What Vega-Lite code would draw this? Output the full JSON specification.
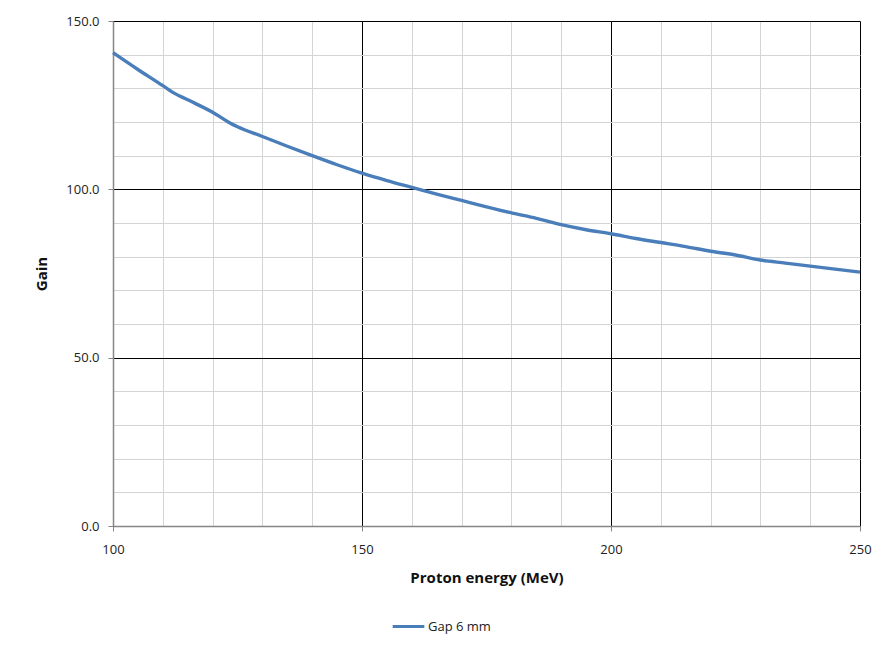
{
  "$schema": "https://vega.github.io/schema/vega-lite/v6.json",
  "autosize": {"type": "none"},
  "padding": {"left": 113, "top": 21, "right": 30, "bottom": 122},
  "width": 747,
  "height": 505,
  "background": "white",
  "config": {
    "font": "Open Sans",
    "view": {"stroke": null}
  },
  "data": {
    "values": [
      {"energy": 100, "gain": 140.6, "series": "Gap 6 mm"},
      {"energy": 105, "gain": 135.6, "series": "Gap 6 mm"},
      {"energy": 110, "gain": 130.8, "series": "Gap 6 mm"},
      {"energy": 112, "gain": 128.8, "series": "Gap 6 mm"},
      {"energy": 115, "gain": 126.6, "series": "Gap 6 mm"},
      {"energy": 120, "gain": 122.9, "series": "Gap 6 mm"},
      {"energy": 124, "gain": 119.3, "series": "Gap 6 mm"},
      {"energy": 125, "gain": 118.6, "series": "Gap 6 mm"},
      {"energy": 130, "gain": 115.7, "series": "Gap 6 mm"},
      {"energy": 135, "gain": 112.8, "series": "Gap 6 mm"},
      {"energy": 140, "gain": 110.0, "series": "Gap 6 mm"},
      {"energy": 145, "gain": 107.3, "series": "Gap 6 mm"},
      {"energy": 150, "gain": 104.8, "series": "Gap 6 mm"},
      {"energy": 155, "gain": 102.6, "series": "Gap 6 mm"},
      {"energy": 160, "gain": 100.6, "series": "Gap 6 mm"},
      {"energy": 165, "gain": 98.6, "series": "Gap 6 mm"},
      {"energy": 170, "gain": 96.7, "series": "Gap 6 mm"},
      {"energy": 175, "gain": 94.8, "series": "Gap 6 mm"},
      {"energy": 180, "gain": 93.0, "series": "Gap 6 mm"},
      {"energy": 185, "gain": 91.4, "series": "Gap 6 mm"},
      {"energy": 190, "gain": 89.5, "series": "Gap 6 mm"},
      {"energy": 195, "gain": 88.0, "series": "Gap 6 mm"},
      {"energy": 200, "gain": 86.8, "series": "Gap 6 mm"},
      {"energy": 205, "gain": 85.4, "series": "Gap 6 mm"},
      {"energy": 210, "gain": 84.2, "series": "Gap 6 mm"},
      {"energy": 215, "gain": 83.0, "series": "Gap 6 mm"},
      {"energy": 220, "gain": 81.6, "series": "Gap 6 mm"},
      {"energy": 225, "gain": 80.5, "series": "Gap 6 mm"},
      {"energy": 230, "gain": 79.0, "series": "Gap 6 mm"},
      {"energy": 235, "gain": 78.1, "series": "Gap 6 mm"},
      {"energy": 240, "gain": 77.2, "series": "Gap 6 mm"},
      {"energy": 245, "gain": 76.3, "series": "Gap 6 mm"},
      {"energy": 250, "gain": 75.4, "series": "Gap 6 mm"}
    ]
  },
  "layer": [
    {
      "mark": {"type": "line", "opacity": 0},
      "encoding": {
        "x": {
          "field": "energy", "type": "quantitative",
          "scale": {"domain": [100, 250], "nice": false, "zero": false},
          "axis": {
            "orient": "top",
            "values": [100, 110, 120, 130, 140, 160, 170, 180, 190, 210, 220, 230, 240],
            "labels": false, "ticks": false, "domain": false, "title": null,
            "grid": true, "gridColor": "#d4d4d4", "gridWidth": 1, "gridOpacity": 1
          }
        },
        "y": {
          "field": "gain", "type": "quantitative",
          "scale": {"domain": [0, 150], "nice": false},
          "axis": {
            "orient": "right",
            "values": [10, 20, 30, 40, 60, 70, 80, 90, 110, 120, 130, 140],
            "labels": false, "ticks": false, "domain": false, "title": null,
            "grid": true, "gridColor": "#d4d4d4", "gridWidth": 1, "gridOpacity": 1
          }
        }
      }
    },
    {
      "mark": {"type": "line", "strokeWidth": 3.4, "color": "#4a7ebb", "interpolate": "monotone"},
      "encoding": {
        "x": {
          "field": "energy", "type": "quantitative",
          "scale": {"domain": [100, 250], "nice": false, "zero": false},
          "axis": {
            "orient": "bottom",
            "values": [100, 150, 200, 250],
            "format": "d",
            "labelFlush": false,
            "grid": true, "gridColor": "#000000", "gridWidth": 1, "gridOpacity": 1,
            "domainColor": "#868686", "domainWidth": 1.5,
            "tickColor": "#868686", "tickSize": 5,
            "labelFont": "Open Sans", "labelFontSize": 13, "labelColor": "#222222",
            "labelPadding": 12,
            "title": "Proton energy (MeV)",
            "titleFont": "Open Sans", "titleFontSize": 15, "titleFontWeight": "bold",
            "titleColor": "#111111", "titlePadding": 14
          }
        },
        "y": {
          "field": "gain", "type": "quantitative",
          "scale": {"domain": [0, 150], "nice": false},
          "axis": {
            "orient": "left",
            "values": [0, 50, 100, 150],
            "format": ".1f",
            "labelFlush": false,
            "grid": true, "gridColor": "#000000", "gridWidth": 1, "gridOpacity": 1,
            "domainColor": "#868686", "domainWidth": 1.5,
            "tickColor": "#868686", "tickSize": 5,
            "labelFont": "Open Sans", "labelFontSize": 13, "labelColor": "#222222",
            "labelPadding": 9,
            "title": "Gain",
            "titleFont": "Open Sans", "titleFontSize": 15, "titleFontWeight": "bold",
            "titleColor": "#111111", "titlePadding": 16
          }
        },
        "color": {
          "field": "series", "type": "nominal",
          "scale": {"range": ["#4a7ebb"]},
          "legend": {
            "title": null,
            "orient": "none",
            "legendX": 278,
            "legendY": 588,
            "symbolType": "stroke",
            "symbolSize": 1000,
            "symbolStrokeWidth": 3,
            "labelFont": "Open Sans",
            "labelFontSize": 13,
            "labelColor": "#222222",
            "labelOffset": 2
          }
        }
      }
    }
  ],
  "resolve": {"axis": {"x": "independent", "y": "independent"}}
}
